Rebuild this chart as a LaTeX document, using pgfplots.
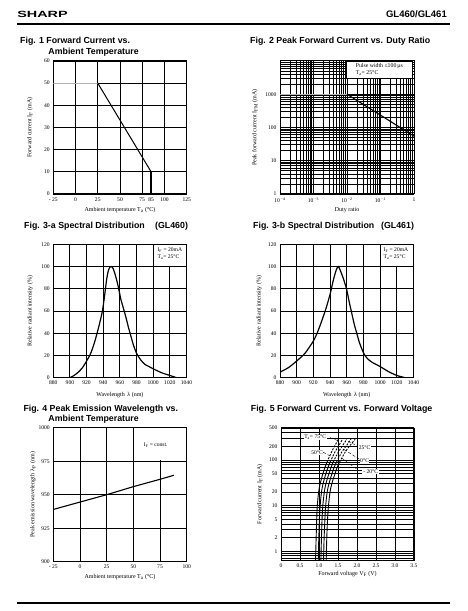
\documentclass[border=0pt]{standalone}
\usepackage{fontspec}
\setmainfont{Liberation Serif}
\newfontfamily\hel{Liberation Sans}
\usepackage{pgfplots}
\pgfplotsset{compat=1.18}
\pgfplotsset{
  sheet/.style={
    scale only axis, anchor=south west,
    axis line style={line width=1pt},
    major grid style={line width=0.95pt, black},
    minor grid style={line width=0.95pt, black},
    major tick length=0pt, minor tick length=0pt,
    tick label style={font=\fontsize{5.6}{6}\selectfont},
    label style={font=\fontsize{6}{7}\selectfont},
  },
}
\tikzset{lg/.style={font=\fontsize{5.6}{6.6}\selectfont, align=left, inner sep=0.5pt}}
\begin{document}
\begin{tikzpicture}
\path[use as bounding box] (0,0) rectangle (467pt,611pt);
% header
\node[anchor=west, font=\hel\bfseries\fontsize{9}{9}\selectfont, xscale=1.6, inner sep=0pt] at (17pt,597pt) {SHARP};
\node[anchor=east, font=\hel\bfseries\fontsize{9.5}{10}\selectfont, inner sep=0pt] at (447pt,597pt) {GL460/GL461};
\draw[line width=2pt] (17pt,587pt) -- (450pt,587pt);
\draw[line width=1.2pt] (17pt,8pt) -- (450pt,8pt);
% titles
\tikzset{ttl/.style={anchor=west, font=\hel\bfseries\fontsize{8.8}{9}\selectfont, inner sep=0pt}}
\node[ttl] at (20pt,569.3pt) {Fig. 1 Forward Current vs.};
\node[ttl] at (48.3pt,558.3pt) {Ambient Temperature};
\node[ttl] at (250pt,569.3pt) {Fig. 2 Peak Forward Current vs. Duty Ratio};
\node[ttl] at (24pt,385pt) {Fig. 3-a Spectral Distribution};
\node[ttl] at (155pt,385pt) {(GL460)};
\node[ttl] at (253pt,385pt) {Fig. 3-b Spectral Distribution};
\node[ttl] at (381pt,385pt) {(GL461)};
\node[ttl] at (23.3pt,201.7pt) {Fig. 4 Peak Emission Wavelength vs.};
\node[ttl] at (48.3pt,191.5pt) {Ambient Temperature};
\node[ttl] at (250.7pt,201.7pt) {Fig. 5 Forward Current vs. Forward Voltage};

% Fig 1
\begin{axis}[sheet, at={(53.3pt,417pt)}, width=133.4pt, height=133pt,
  xmin=-25, xmax=125, ymin=0, ymax=60, grid=major,
  xtick={-25,0,25,50,75,100,125}, xticklabels={- 25,0,25,50,75,100,125},
  extra x ticks={85}, extra x tick labels={85}, extra x tick style={grid=none},
  ytick={0,10,20,30,40,50,60}, yticklabels={0,10,20,30,40,50,60},
  xlabel={Ambient temperature T\textsubscript{a} (°C)},
  ylabel={Forward current I\textsubscript{F} (mA)},
  xlabel style={at={(axis description cs:0.5,-0.12)}, anchor=center},
  ylabel style={at={(axis description cs:-0.175,0.5)}, anchor=center}]
\addplot[gray!60, line width=1pt] coordinates {(-25,50) (25,50)};
\addplot[black, line width=1pt] coordinates {(25,50) (85,10)};
\addplot[black, line width=1.6pt] coordinates {(85,10) (85,0)};
\end{axis}

% Fig 2
\begin{axis}[sheet, xmode=log, ymode=log, at={(280pt,417pt)}, width=134pt, height=133pt,
  xmin=1e-4, xmax=1, ymin=1, ymax=1e4, grid=both,
  xtick={1e-4,1e-3,1e-2,1e-1,1},
  xticklabels={10\,\textsuperscript{−4},10\,\textsuperscript{−3},10\,\textsuperscript{−2},10\,\textsuperscript{−1},1},
  ytick={1,10,100,1000}, yticklabels={1,10,100,1000},
  minor xtick={2e-4,3e-4,4e-4,5e-4,6e-4,7e-4,8e-4,9e-4,
    2e-3,3e-3,4e-3,5e-3,6e-3,7e-3,8e-3,9e-3,
    2e-2,3e-2,4e-2,5e-2,6e-2,7e-2,8e-2,9e-2,
    0.2,0.3,0.4,0.5,0.6,0.7,0.8,0.9},
  minor ytick={2,3,4,5,6,7,8,9,20,30,40,50,60,70,80,90,
    200,300,400,500,600,700,800,900,2000,3000,4000,5000,6000,7000,8000,9000},
  xlabel={Duty ratio},
  ylabel={Peak forward current I\textsubscript{FM} (mA)},
  xlabel style={at={(axis description cs:0.5,-0.12)}, anchor=center},
  ylabel style={at={(axis description cs:-0.187,0.5)}, anchor=center}]
\addplot[gray!60, line width=1.1pt] coordinates {(1e-4,1000) (1e-2,1000)};
\addplot[black, line width=1.1pt] coordinates {(1e-2,1000) (1,55)};
\node[draw, fill=white, line width=0.7pt, anchor=north east, minimum width=66pt, minimum height=17pt,
  font=\fontsize{5.8}{6.8}\selectfont, align=left, inner sep=1pt] at (rel axis cs:0.99,1)
  {Pulse width ≤100\,μs\\T\textsubscript{a}= 25°C};
\end{axis}

% Fig 3a
\begin{axis}[sheet, at={(53.3pt,233.3pt)}, width=133.2pt, height=133.4pt,
  xmin=880, xmax=1040, ymin=0, ymax=120, grid=major,
  xtick={880,900,920,940,960,980,1000,1020,1040},
  xticklabels={880,900,920,940,960,980,1000,1020,1040},
  ytick={0,20,40,60,80,100,120}, yticklabels={0,20,40,60,80,100,120},
  xlabel={Wavelength \,λ (nm)},
  ylabel={Relative radiant intensity (\%)},
  xlabel style={at={(axis description cs:0.5,-0.127)}, anchor=center},
  ylabel style={at={(axis description cs:-0.173,0.5)}, anchor=center}]
\fill[white] (axis cs:1001.4,100.8) rectangle (axis cs:1039.2,119.2);
\node[lg] at (axis cs:1020,111.5) {I\textsubscript{F} = 20mA\\T\textsubscript{a}= 25°C};
\addplot[black, line width=1.2pt, smooth, tension=0.4] coordinates {
 (900,0) (905,2) (910,5) (915,9) (920,15) (925,22) (930,33) (935,47) (939,60)
 (942,76) (944,88) (946,96) (948,99.5) (950,100) (952,98) (955,91) (958,82)
 (961,71) (964,63) (967,55) (970,46) (973,38) (976,30) (980,22) (985,16)
 (990,12) (995,10) (1000,8) (1010,4.5) (1020,2) (1028,0)};
\end{axis}

% Fig 3b
\begin{axis}[sheet, at={(280pt,233.3pt)}, width=133.5pt, height=133.4pt,
  xmin=880, xmax=1040, ymin=0, ymax=120, grid=major,
  xtick={880,900,920,940,960,980,1000,1020,1040},
  xticklabels={880,900,920,940,960,980,1000,1020,1040},
  ytick={0,20,40,60,80,100,120}, yticklabels={0,20,40,60,80,100,120},
  xlabel={Wavelength \,λ (nm)},
  ylabel={Relative radiant intensity (\%)},
  xlabel style={at={(axis description cs:0.5,-0.127)}, anchor=center},
  ylabel style={at={(axis description cs:-0.155,0.5)}, anchor=center}]
\fill[white] (axis cs:1001.4,100.8) rectangle (axis cs:1039.2,119.2);
\node[lg] at (axis cs:1019,111.5) {I\textsubscript{F} = 20mA\\T\textsubscript{a}= 25°C};
\addplot[black, line width=1.2pt, smooth, tension=0.4] coordinates {
 (880,5) (890,9) (900,15) (910,22) (920,33) (925,41) (930,51) (935,62) (940,75)
 (944,88) (947,96) (949,99.5) (950,100) (952,97) (956,89) (960,79) (963,68)
 (966,58) (969,48) (972,40) (975,32) (978,26) (981,21) (985,17) (990,14)
 (995,12) (1000,10) (1010,5.5) (1020,2) (1030,0)};
\end{axis}

% Fig 4
\begin{axis}[sheet, at={(53.3pt,49.3pt)}, width=133.4pt, height=134pt,
  xmin=-25, xmax=100, ymin=900, ymax=1000, grid=major,
  xtick={-25,0,25,50,75,100}, xticklabels={- 25,0,25,50,75,100},
  ytick={900,925,950,975,1000}, yticklabels={900,925,950,975,1000},
  xlabel={Ambient temperature T\textsubscript{a} (°C)},
  ylabel={Peak emission wavelength \,λ\textsubscript{P} (nm)},
  xlabel style={at={(axis description cs:0.5,-0.112)}, anchor=center},
  ylabel style={at={(axis description cs:-0.152,0.5)}, anchor=center}]
\fill[white] (axis cs:50.9,975.6) rectangle (axis cs:99.5,999.5);
\node[lg] at (axis cs:71,987) {I\textsubscript{F} = const.};
\addplot[black, line width=1.1pt] coordinates {
 (-25,939) (0,944.5) (25,950) (50,956) (75,961.5) (88,964.5)};
\end{axis}

% Fig 5
\begin{axis}[sheet, ymode=log, at={(281pt,50.3pt)}, width=133pt, height=133pt,
  xmin=0, xmax=3.5, ymin=0.63, ymax=510, grid=both,
  xtick={0,0.5,1,1.5,2,2.5,3,3.5}, xticklabels={0,0.5,1.0,1.5,2.0,2.5,3.0,3.5},
  ytick={1,2,5,10,20,50,100,200,500}, yticklabels={1,2,5,10,20,50,100,200,500},
  minor ytick={0.7,0.8,0.9,3,4,6,7,8,9,30,40,60,70,80,90,300,400},
  xlabel={Forward voltage V\textsubscript{F} (V)},
  ylabel={Forward current I\textsubscript{F} (mA)},
  xlabel style={at={(axis description cs:0.5,-0.10)}, anchor=center},
  ylabel style={at={(axis description cs:-0.158,0.5)}, anchor=center}]
% solid parts
\addplot[black, line width=0.9pt, smooth] coordinates {(0.91,0.63)(0.915,1)(0.925,2)(0.94,5)(0.955,10)(0.99,20)(1.03,30)(1.10,50)(1.16,70)(1.21,90)};
\addplot[black, line width=0.9pt, smooth] coordinates {(0.98,0.63)(0.985,1)(0.995,2)(1.01,5)(1.03,10)(1.065,20)(1.105,30)(1.18,50)(1.24,70)(1.29,90)};
\addplot[black, line width=0.9pt, smooth] coordinates {(1.05,0.63)(1.055,1)(1.065,2)(1.08,5)(1.10,10)(1.14,20)(1.18,30)(1.26,50)(1.32,70)(1.37,90)};
\addplot[black, line width=0.9pt, smooth] coordinates {(1.12,0.63)(1.125,1)(1.135,2)(1.155,5)(1.175,10)(1.215,20)(1.26,30)(1.34,50)(1.40,70)(1.46,90)};
\addplot[black, line width=0.9pt, smooth] coordinates {(1.19,0.63)(1.195,1)(1.205,2)(1.225,5)(1.25,10)(1.29,20)(1.335,30)(1.42,50)(1.48,70)(1.54,90)};
% dashed (pulse) parts
\addplot[black, line width=0.9pt, smooth, dash pattern=on 2pt off 1.3pt] coordinates {(1.21,90)(1.33,150)(1.41,200)(1.51,285)};
\addplot[black, line width=0.9pt, smooth, dash pattern=on 2pt off 1.3pt] coordinates {(1.29,90)(1.42,150)(1.51,200)(1.62,285)};
\addplot[black, line width=0.9pt, smooth, dash pattern=on 2pt off 1.3pt] coordinates {(1.37,90)(1.51,150)(1.61,200)(1.73,285)};
\addplot[black, line width=0.9pt, smooth, dash pattern=on 2pt off 1.3pt] coordinates {(1.46,90)(1.60,150)(1.71,200)(1.84,285)};
\addplot[black, line width=0.9pt, smooth, dash pattern=on 2pt off 1.3pt] coordinates {(1.54,90)(1.69,150)(1.80,200)(1.95,285)};
% leaders
\draw[line width=0.4pt, densely dashed] (axis cs:1.29,310) -- (axis cs:1.50,265);
\draw[line width=0.4pt, densely dashed] (axis cs:1.11,148) -- (axis cs:1.36,115);
\draw[line width=0.4pt, densely dashed] (axis cs:1.76,260) -- (axis cs:2.05,195);
\draw[line width=0.4pt, densely dashed] (axis cs:1.66,170) -- (axis cs:2.10,100);
\draw[line width=0.4pt, densely dashed] (axis cs:1.60,110) -- (axis cs:2.06,58);
% labels
\node[lg, fill=white] at (axis cs:0.9,310) {T\textsubscript{a}= 75°C};
\node[lg, fill=white] at (axis cs:0.95,148) {50°C};
\node[lg, fill=white] at (axis cs:2.20,191) {25°C};
\node[lg, fill=white] at (axis cs:2.20,98) {0°C};
\node[lg, fill=white] at (axis cs:2.35,56) {\,- 20°C};
\end{axis}
\end{tikzpicture}
\end{document}
